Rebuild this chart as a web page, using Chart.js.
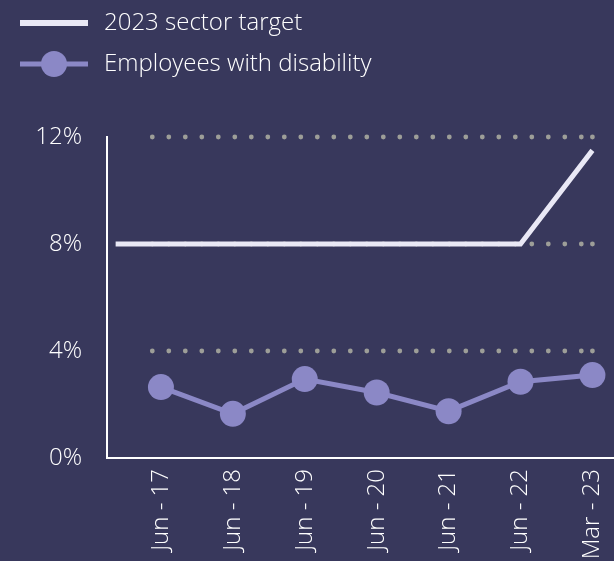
<!DOCTYPE html>
<html>
<head>
<meta charset="utf-8">
<script src="https://cdn.jsdelivr.net/npm/chart.js@4"></script>
<style>
html,body{margin:0;padding:0;background:#38385c;overflow:hidden;}
#wrap{position:relative;width:614px;height:561px;}
</style>
</head>
<body>
<div id="wrap"><canvas id="chart"></canvas></div>
<script>
const periods = ["Jun - 17","Jun - 18","Jun - 19","Jun - 20","Jun - 21","Jun - 22","Mar - 23"];
const disability = [2.65, 1.65, 2.95, 2.45, 1.75, 2.85, 3.1];
const targetAt = [-0.63, 5, 6];
const targetPct = [8, 8, 11.5];
const yTicks = [0, 4, 8, 12];

const PURPLE = "#8b88c6";
const TARGET = "#e9e8f5";
const FONT = "'Open Sans'";

// legend sample: line (and dot) on a 72px wide canvas, drawn in its left 68px
function swatch(color, lineW, dot){
    const c = document.createElement("canvas");
    c.width = 72; c.height = 28;
    const g = c.getContext("2d");
    g.strokeStyle = color;
    g.lineWidth = lineW;
    g.beginPath(); g.moveTo(0,14); g.lineTo(68,14); g.stroke();
    if(dot){
        g.fillStyle = color;
        g.beginPath(); g.arc(34,14,13,0,Math.PI*2); g.fill();
    }
    return c;
}

// dotted reference lines, only across the plotted span
const dottedGrid = {
    id:"dottedGrid",
    beforeDatasetsDraw(chart){
        const {ctx, scales:{x, y}} = chart;
        const x0 = x.getPixelForValue(-0.12);
        const x1 = x.getPixelForValue(periods.length - 1);
        ctx.save();
        ctx.fillStyle = "#9d9e98";
        yTicks.filter(v => v > 0).forEach(v=>{
            const py = y.getPixelForValue(v);
            const dot = px => { ctx.beginPath(); ctx.arc(px, py, 2.4, 0, Math.PI*2); ctx.fill(); };
            for(let px = x0; px < x1 - 3; px += 16.5) dot(px);
            dot(x1);
        });
        ctx.restore();
    }
};

const legendSpace = {
    id:"legendSpace",
    beforeInit(chart){
        const fit = chart.legend.fit;
        chart.legend.fit = function(){
            fit.call(this);
            this.height += 51;
        };
    }
};

new Chart(document.getElementById("chart"),{
    type:"line",
    data:{
        datasets:[{
            label:"2023 sector target",
            data:targetAt.map((v,i)=>({x:v, y:targetPct[i]})),
            borderColor:TARGET,
            borderWidth:5,
            pointRadius:0,
            fill:false,
            clip:false
        },{
            label:"Employees with disability",
            data:disability.map((v,i)=>({x:i, y:v})),
            borderColor:PURPLE,
            backgroundColor:PURPLE,
            borderWidth:5,
            pointRadius:13,
            pointBorderWidth:0,
            pointBackgroundColor:PURPLE,
            fill:false,
            clip:false
        }]
    },
    options:{
        responsive:true,
        maintainAspectRatio:false,
        animation:false,
        layout:{autoPadding:false, padding:{top:-6, left:3, right:0, bottom:0}},
        plugins:{
            tooltip:{enabled:false},
            legend:{
                position:"top",
                align:"start",
                labels:{
                    color:"#ffffff",
                    font:{family:FONT, size:24, weight:300},
                    padding:17,
                    usePointStyle:true,
                    pointStyleWidth:72,
                    generateLabels(chart){
                        return chart.data.datasets.map((ds,i)=>({
                            text:ds.label,
                            fontColor:"#ffffff",
                            pointStyle:i === 0 ? swatch(TARGET,6,false) : swatch(PURPLE,5,true),
                            datasetIndex:i,
                            lineWidth:0
                        }));
                    }
                }
            }
        },
        scales:{
            x:{
                type:"linear",
                bounds:"data",
                min:-0.75,
                max:6.3,
                afterBuildTicks(scale){
                    scale.ticks = periods.map((_,i)=>({value:i}));
                },
                afterFit(scale){
                    scale.height = 103;
                    scale.paddingLeft = 0;
                    scale.paddingRight = 0;
                },
                grid:{display:false, drawTicks:false},
                border:{display:true, color:"#ffffff", width:2},
                ticks:{
                    autoSkip:false,
                    minRotation:90,
                    maxRotation:90,
                    padding:11,
                    color:"#ffffff",
                    font:{family:FONT, size:24, weight:300},
                    callback:(v)=>periods[v] ?? ""
                }
            },
            y:{
                min:0,
                max:12,
                afterBuildTicks(scale){
                    scale.ticks = yTicks.map(v=>({value:v}));
                },
                afterFit(scale){
                    scale.width = 104;
                },
                grid:{display:false, drawTicks:false},
                border:{display:true, color:"#ffffff", width:2},
                ticks:{
                    padding:25,
                    color:"#ffffff",
                    font:{family:FONT, size:24, weight:300},
                    callback:(v)=>v + "%"
                }
            }
        }
    },
    plugins:[dottedGrid, legendSpace]
});
</script>
</body>
</html>
